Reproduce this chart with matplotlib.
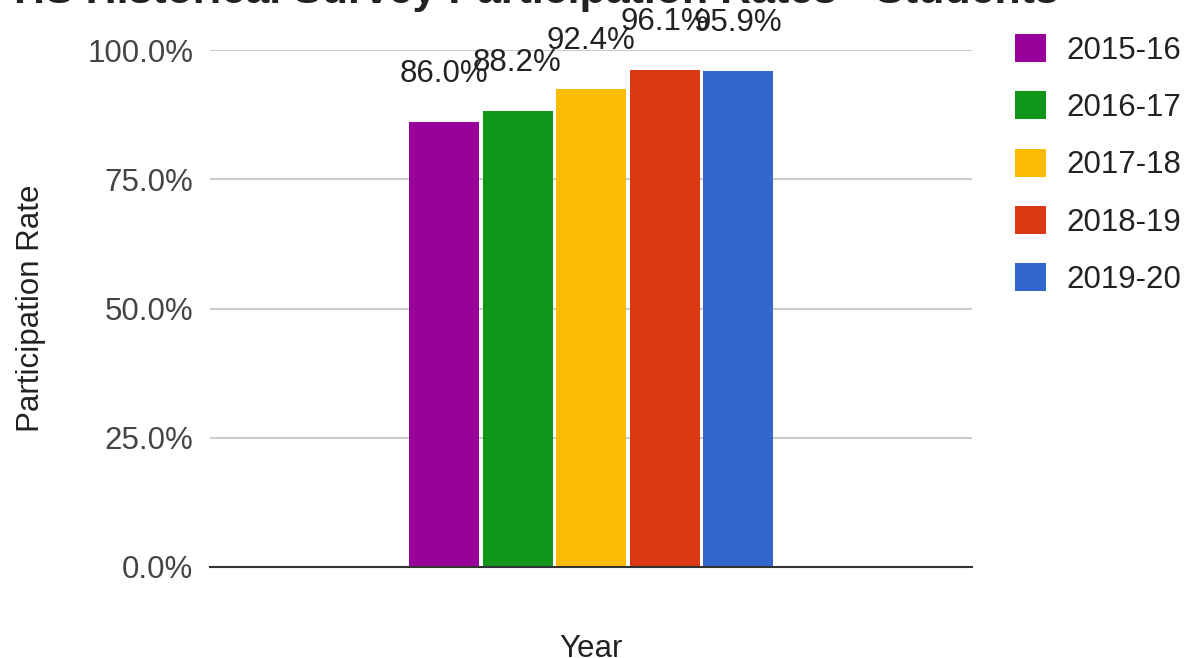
import matplotlib
matplotlib.use("Agg")
import matplotlib.pyplot as plt
from matplotlib.patches import Patch

plt.rcParams['font.family'] = ['Liberation Sans', 'DejaVu Sans']

# participation rate per school year (percent)
years = ["2015-16", "2016-17", "2017-18", "2018-19", "2019-20"]
rates = [86.0, 88.2, 92.4, 96.1, 95.9]
colors = ["#990099", "#109618", "#fbbc04", "#dc3912", "#3366cc"]
y_ticks = [0, 25, 50, 75, 100]
y_tick_labels = ["0.0%", "25.0%", "50.0%", "75.0%", "100.0%"]

W, H = 1188, 658
fig = plt.figure(figsize=(W / 100, H / 100), dpi=100)
ax = fig.add_axes([210 / W, 1 - 567 / H, (972 - 210) / W, (567 - 50) / H])

fs = 22.5
pitch = 73.5 / 762
width = 70 / 762
for i, (yr, r, c) in enumerate(zip(years, rates, colors)):
    xpos = (i - (len(years) - 1) / 2) * pitch
    bars = ax.bar(xpos, r, width=width, color=c, label=yr, zorder=3)
    ax.bar_label(bars, labels=[f"{r:.1f}%"], padding=24, fontsize=fs,
                 color="#222222", zorder=4)

ax.set_xlim(-0.5, 0.5)
ax.set_ylim(0, 100)
ax.set_yticks(y_ticks)
ax.set_yticklabels(y_tick_labels, fontsize=fs, color="#444444")
ax.set_xticks([])
ax.tick_params(axis="y", length=0, pad=12)
ax.grid(axis="y", color="#cccccc", linewidth=1.5, zorder=0)
for side in ["top", "right", "left"]:
    ax.spines[side].set_visible(False)
ax.spines["bottom"].set_color("#333333")
ax.spines["bottom"].set_linewidth(1.5)
ax.spines["bottom"].set_zorder(5)

ax.set_ylabel("Participation Rate", fontsize=fs, color="#222222", labelpad=30)
ax.set_xlabel("Year", fontsize=fs, color="#222222", labelpad=48)

fig.text(0.012, 1 - 3 / H, "HS Historical Survey Participation Rates - Students",
         fontsize=31, fontweight="bold", color="#222222", ha="left", va="baseline")

handles = [Patch(facecolor=c, edgecolor="none") for c in colors]
fig.legend(handles, years, loc="upper left",
           bbox_to_anchor=(1015 / W, 1 - 34 / H), frameon=False, fontsize=fs,
           handlelength=1.0, handleheight=1.0, handletextpad=0.65,
           labelspacing=0.82, borderpad=0, borderaxespad=0, labelcolor="#222222")

fig.savefig("out.png", dpi=100)
